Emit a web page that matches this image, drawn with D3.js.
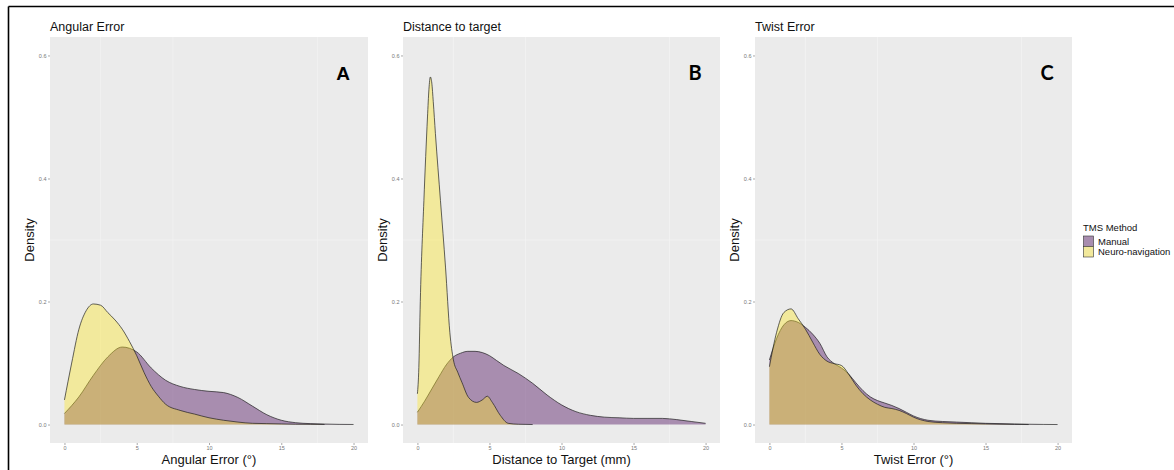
<!DOCTYPE html>
<html>
<head>
<meta charset="utf-8">
<script src="https://cdn.jsdelivr.net/npm/d3@7"></script>
<style>
  body { margin: 0; background: white; }
  svg { display: block; font-family: "Liberation Sans", Arial, sans-serif; }
</style>
</head>
<body>
<div id="container"></div>
<script>
// density curves, as [x, density] pairs
const angularManual = [[0,0.018],[1,0.045],[2,0.080],[3,0.110],[4,0.126],[5,0.118],[6,0.092],[7,0.072],[8,0.062],[9,0.057],[10,0.054],[11,0.052],[12,0.044],[13,0.030],[14,0.016],[15,0.007],[16,0.003],[17,0.0015],[18,0.0008],[19,0.0003],[20,0.0001]]
const angularNeuro = [[0,0.040],[0.5,0.10],[1,0.155],[1.5,0.185],[2,0.196],[2.5,0.194],[3,0.182],[3.5,0.170],[4,0.155],[4.5,0.135],[5,0.112],[5.5,0.085],[6,0.062],[6.5,0.046],[7,0.033],[8,0.023],[9,0.017],[10,0.011],[11,0.007],[12,0.004],[13,0.002],[14,0.0015],[15,0.001],[16,0.0005],[17,0.0003],[18,0.0001]]

const distanceManual = [[0,0.020],[0.5,0.038],[1,0.058],[1.5,0.078],[2,0.097],[2.5,0.110],[3,0.116],[3.5,0.119],[4,0.119],[4.5,0.117],[5,0.112],[5.5,0.104],[6,0.096],[7,0.083],[8,0.067],[9,0.048],[10,0.032],[11,0.021],[12,0.015],[13,0.012],[14,0.011],[15,0.010],[16,0.010],[17,0.010],[18,0.008],[19,0.005],[20,0.002]]
const distanceNeuro = [[0,0.050],[0.1,0.093],[0.2,0.20],[0.45,0.364],[0.7,0.50],[0.8,0.545],[0.9,0.565],[1.0,0.555],[1.1,0.525],[1.25,0.473],[1.6,0.364],[1.95,0.256],[2.25,0.15],[2.5,0.105],[2.8,0.085],[3.1,0.068],[3.55,0.044],[4.1,0.036],[4.5,0.040],[4.85,0.046],[5.2,0.036],[5.75,0.015],[6.3,0.002],[7,0.0005],[8,0.0]]

const twistManual = [[0,0.105],[0.5,0.140],[1,0.162],[1.5,0.169],[2,0.166],[2.5,0.158],[3,0.147],[3.5,0.132],[4,0.110],[4.5,0.099],[5,0.092],[5.5,0.082],[6,0.068],[6.5,0.055],[7,0.045],[7.5,0.039],[8,0.035],[8.5,0.031],[9,0.026],[9.5,0.020],[10,0.014],[11,0.007],[12,0.005],[13,0.004],[14,0.003],[15,0.002],[16,0.0015],[17,0.001],[18,0.0005],[19,0.0002],[20,0]]
const twistNeuro = [[0,0.094],[0.5,0.150],[1,0.182],[1.5,0.188],[2,0.172],[2.5,0.155],[3,0.134],[3.5,0.114],[4,0.103],[4.5,0.099],[5,0.096],[5.5,0.082],[6,0.064],[6.5,0.050],[7,0.040],[7.5,0.033],[8,0.028],[8.5,0.026],[9,0.023],[9.5,0.018],[10,0.012],[11,0.005],[12,0.003],[13,0.002],[14,0.0015],[15,0.001],[16,0.0005],[17,0.0002],[18,0]]

const methods = ["Manual", "Neuro-navigation"]
const xTicks = [0, 5, 10, 15, 20]
const yTicks = [0, 0.2, 0.4, 0.6]
const panelTitles = ["Angular Error", "Distance to target", "Twist Error"]
const xTitles = ["Angular Error (°)", "Distance to Target (mm)", "Twist Error (°)"]
const panelLetters = ["A", "B", "C"]

const w = 1174
const h = 470
const plotTop = 37
const plotBottom = 443
const panels = [
    { left: 50, right: 368, series: [angularManual, angularNeuro] },
    { left: 403, right: 720, series: [distanceManual, distanceNeuro] },
    { left: 755, right: 1072, series: [twistManual, twistNeuro] },
]
const colorScale = d3.scaleOrdinal()
    .domain(methods)
    .range(["#440154", "#FDE725"])

const svg = d3.select("#container")
    .append("svg")
    .attr("width", w)
    .attr("height", h)
    .style("background-color", "white")

// outer frame (only top and left edges show in the figure)
svg.append("line").attr("x1", 8.5).attr("x2", w).attr("y1", 6.5).attr("y2", 6.5)
    .attr("stroke", "black").attr("stroke-width", 1.6)
svg.append("line").attr("x1", 8.5).attr("x2", 8.5).attr("y1", 6.5).attr("y2", h)
    .attr("stroke", "black").attr("stroke-width", 1.6)

panels.forEach((p, i) => {
    const xScale = d3.scaleLinear().domain([-1, 21]).range([p.left, p.right])
    const yScale = d3.scaleLinear().domain([-0.03, 0.63]).range([plotBottom, plotTop])
    const g = svg.append("g")

    g.append("rect")
        .attr("x", p.left).attr("y", plotTop)
        .attr("width", p.right - p.left).attr("height", plotBottom - plotTop)
        .attr("fill", "#EBEBEB")

    // faint minor gridlines
    g.selectAll(".vgrid").data([2.5, 7.5, 17.5]).enter().append("line")
        .attr("x1", (d) => xScale(d)).attr("x2", (d) => xScale(d))
        .attr("y1", plotTop).attr("y2", plotBottom)
        .attr("stroke", "#f3f3f3").attr("stroke-width", 0.7)
    g.selectAll(".hgrid").data([0.3]).enter().append("line")
        .attr("x1", p.left).attr("x2", p.right)
        .attr("y1", (d) => yScale(d)).attr("y2", (d) => yScale(d))
        .attr("stroke", "#f3f3f3").attr("stroke-width", 0.7)

    const area = d3.area()
        .x((d) => xScale(d[0]))
        .y0(yScale(0))
        .y1((d) => yScale(d[1]))
        .curve(d3.curveMonotoneX)
    const line = d3.line()
        .x((d) => xScale(d[0]))
        .y((d) => yScale(d[1]))
        .curve(d3.curveMonotoneX)

    p.series.forEach((s, j) => {
        g.append("path")
            .attr("d", area(s))
            .attr("fill", colorScale(methods[j]))
            .attr("fill-opacity", 0.4)
        g.append("path")
            .attr("d", line(s))
            .attr("fill", "none")
            .attr("stroke", "#1a1a1a")
            .attr("stroke-opacity", 0.85)
            .attr("stroke-width", 0.8)
    })

    const xAxis = d3.axisBottom(xScale).tickValues(xTicks).tickSize(2).tickPadding(1.5)
    const yAxis = d3.axisLeft(yScale).tickValues(yTicks).tickFormat(d3.format(".1f")).tickSize(2).tickPadding(1.5)
    const xg = g.append("g").attr("transform", `translate(0, ${plotBottom})`).call(xAxis)
    const yg = g.append("g").attr("transform", `translate(${p.left}, 0)`).call(yAxis)
    ;[xg, yg].forEach((a) => {
        a.select(".domain").remove()
        a.selectAll("line").attr("stroke", "#555").attr("stroke-width", 0.5)
        a.selectAll("text").attr("fill", "#777").style("font-size", "5.5px")
    })

    g.append("text")
        .attr("x", p.left)
        .attr("y", 31)
        .text(panelTitles[i])
        .style("font-size", "12.5px")
        .attr("fill", "#111")
    g.append("text")
        .attr("x", (p.left + p.right) / 2)
        .attr("y", 464)
        .attr("text-anchor", "middle")
        .text(xTitles[i])
        .style("font-size", "13px")
        .attr("fill", "#111")
    g.append("text")
        .attr("transform", `translate(${p.left - 16}, ${(plotTop + plotBottom) / 2}) rotate(-90)`)
        .attr("text-anchor", "middle")
        .text("Density")
        .style("font-size", "13px")
        .attr("fill", "#111")
    g.append("text")
        .attr("x", p.right - 25)
        .attr("y", 80)
        .attr("text-anchor", "middle")
        .text(panelLetters[i])
        .style("font-size", i === 0 ? "19px" : "20px")
        .style("font-weight", "bold")
        .style("font-family", i === 0 ? "Liberation Sans, Arial, sans-serif" : "Lato, Open Sans, sans-serif")
        .attr("fill", "#000")
})

// legend
const legend = svg.append("g").attr("transform", "translate(1083, 0)")
legend.append("text")
    .attr("x", 0).attr("y", 231)
    .text("TMS Method")
    .style("font-size", "9.5px")
    .attr("fill", "#111")
methods.forEach((m, j) => {
    legend.append("rect")
        .attr("x", 0.5).attr("y", 236 + j * 10.5)
        .attr("width", 10).attr("height", 10.5)
        .attr("fill", "#EBEBEB")
    legend.append("rect")
        .attr("x", 0.5).attr("y", 236 + j * 10.5)
        .attr("width", 10).attr("height", 10.5)
        .attr("fill", colorScale(m))
        .attr("fill-opacity", 0.4)
        .attr("stroke", "#333")
        .attr("stroke-width", 0.6)
    legend.append("text")
        .attr("x", 15).attr("y", 244.5 + j * 10.5)
        .text(m)
        .style("font-size", "9.5px")
        .attr("fill", "#111")
})
</script>
</body>
</html>
